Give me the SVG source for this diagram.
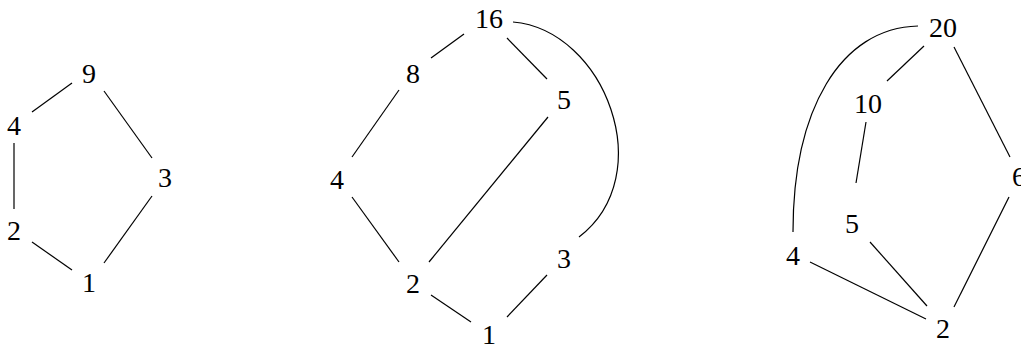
<svg xmlns="http://www.w3.org/2000/svg" width="1021" height="347" viewBox="0 0 1021 347">
<style>
.e{stroke:#000;stroke-width:1.2;fill:none}
.t{font-family:"Liberation Serif","DejaVu Serif",serif;font-size:28px;text-anchor:middle;fill:#000}
</style>
<rect width="1021" height="347" fill="#fff"/>
<g id="connectors">
<line class="e" x1="72" y1="83" x2="32" y2="112"/>
<line class="e" x1="104" y1="91" x2="152" y2="158"/>
<line class="e" x1="14" y1="143" x2="14" y2="209"/>
<line class="e" x1="32" y1="242" x2="72" y2="270"/>
<line class="e" x1="152" y1="196" x2="104" y2="263"/>
<line class="e" x1="464" y1="34" x2="431" y2="58"/>
<line class="e" x1="507" y1="38" x2="547" y2="79"/>
<line class="e" x1="399" y1="90" x2="352" y2="157"/>
<line class="e" x1="548" y1="117" x2="429" y2="262"/>
<line class="e" x1="352" y1="197" x2="399" y2="262"/>
<line class="e" x1="431" y1="295" x2="471" y2="322"/>
<line class="e" x1="547" y1="275" x2="507" y2="317"/>
<path class="e" d="M513,22 C605,30 660,175 579,237"/>
<line class="e" x1="924" y1="46" x2="887" y2="81"/>
<line class="e" x1="954" y1="47" x2="1010" y2="157"/>
<line class="e" x1="866" y1="122" x2="856" y2="183"/>
<line class="e" x1="870" y1="242" x2="927" y2="306"/>
<line class="e" x1="810" y1="262" x2="926" y2="319"/>
<line class="e" x1="1009" y1="197" x2="954" y2="307"/>
<path class="e" d="M918,26 C840,28 793,110 793,232"/>
</g>
<g id="a9"><text class="t" x="89" y="83">9</text></g>
<g id="a4"><text class="t" x="14" y="135">4</text></g>
<g id="a3"><text class="t" x="165" y="187">3</text></g>
<g id="a2"><text class="t" x="14" y="240">2</text></g>
<g id="a1"><text class="t" x="89" y="292">1</text></g>
<g id="b16"><text class="t" x="489" y="28">16</text></g>
<g id="b8"><text class="t" x="413" y="83">8</text></g>
<g id="b5"><text class="t" x="564" y="109">5</text></g>
<g id="b4"><text class="t" x="337" y="189">4</text></g>
<g id="b2"><text class="t" x="413" y="293">2</text></g>
<g id="b3"><text class="t" x="564" y="268">3</text></g>
<g id="b1"><text class="t" x="489" y="344">1</text></g>
<g id="c20"><text class="t" x="943" y="37">20</text></g>
<g id="c10"><text class="t" x="868" y="113">10</text></g>
<g id="c6"><text class="t" x="1019" y="186">6</text></g>
<g id="c5"><text class="t" x="852" y="233">5</text></g>
<g id="c4"><text class="t" x="793" y="265">4</text></g>
<g id="c2"><text class="t" x="943" y="338">2</text></g>
</svg>
